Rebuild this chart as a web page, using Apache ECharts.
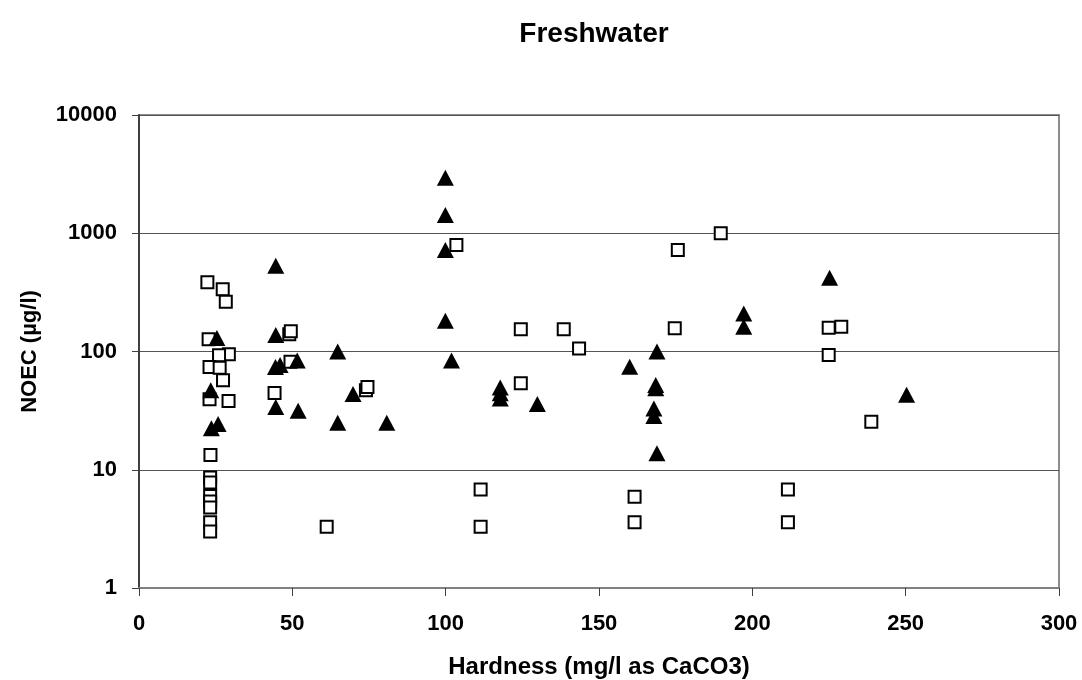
<!DOCTYPE html>
<html>
<head>
<meta charset="utf-8">
<script src="https://cdn.jsdelivr.net/npm/echarts@6/dist/echarts.min.js"></script>
<style>
  html, body { margin: 0; padding: 0; background: #fff; }
  #chart { width: 1082px; height: 680px; }
</style>
</head>
<body>
<div id="chart"></div>
<script>
// open squares: [hardness, NOEC]
let squarePoints = [
  [22.3, 385], [27.3, 336], [28.3, 264],
  [22.7, 127], [49, 140], [49.5, 148],
  [29.3, 95], [26.1, 93], [23.0, 74], [26.3, 73], [27.4, 57],
  [49.4, 82], [23.0, 39.5], [29.2, 38.2], [44.2, 44.5],
  [23.3, 13.3],
  [23.2, 8.6], [23.2, 7.8], [23.2, 6.0], [23.2, 5.4], [23.2, 4.8], [23.2, 3.6], [23.2, 3.0],
  [61.2, 3.3],
  [103.5, 795], [74, 47], [74.5, 50],
  [111.4, 6.8], [111.4, 3.3],
  [124.5, 154], [124.5, 54], [138.5, 154], [143.5, 106],
  [161.6, 5.9], [161.6, 3.6],
  [175.7, 721], [174.7, 157], [189.7, 1000],
  [211.6, 6.8], [211.6, 3.6],
  [224.9, 159], [229, 162], [224.9, 93.5], [238.8, 25.5]
]

// filled triangles: [hardness, NOEC]
let trianglePoints = [
  [44.6, 530], [25.4, 130], [44.6, 138],
  [44.5, 74], [46, 77], [51.6, 84], [23.4, 47],
  [44.6, 34], [51.9, 31.6], [23.6, 22.4], [25.8, 24.4],
  [99.9, 2950], [99.9, 1430], [99.9, 721], [99.9, 182],
  [64.8, 100], [101.9, 84], [69.8, 43.7], [64.8, 25], [80.8, 25],
  [117.8, 49.6], [117.8, 44.3], [117.8, 40.1], [129.9, 36],
  [160, 74.4], [168.9, 100], [168.5, 49], [168.5, 52],
  [167.9, 33], [167.9, 28.5], [168.9, 13.8],
  [197.2, 210], [197.2, 162],
  [225.2, 421], [250.3, 43]
]

let xTicks = [0, 50, 100, 150, 200, 250, 300]
let yTicks = [1, 10, 100, 1000, 10000]

let labelFont = 'Liberation Sans, Arial, sans-serif'

let myChart = echarts.init(document.getElementById('chart'))

myChart.setOption({
  backgroundColor: '#fff',
  animation: false,
  title: {
    text: 'Freshwater',
    left: 589,
    textAlign: 'center',
    top: 15,
    textStyle: { fontFamily: labelFont, fontSize: 28, fontWeight: 'bold', color: '#000' }
  },
  grid: {
    left: 139,
    top: 115,
    right: 23,
    bottom: 92,
    outerBoundsMode: 'none',
    show: true,
    borderColor: '#8c8c8c',
    borderWidth: 2,
    backgroundColor: '#fff'
  },
  xAxis: {
    type: 'value',
    min: xTicks[0],
    max: xTicks[xTicks.length - 1],
    interval: 50,
    name: 'Hardness (mg/l as CaCO3)',
    nameLocation: 'middle',
    nameGap: 67,
    nameTextStyle: { fontFamily: labelFont, fontSize: 24, fontWeight: 'bold', color: '#000' },
    axisLine: { onZero: false, lineStyle: { color: '#808080', width: 2 } },
    axisTick: { show: true, length: 8, lineStyle: { color: '#404040', width: 1 } },
    axisLabel: { fontFamily: labelFont, fontSize: 22, fontWeight: 'bold', color: '#000', margin: 25 },
    splitLine: { show: false }
  },
  yAxis: {
    type: 'log',
    logBase: 10,
    min: yTicks[0],
    max: yTicks[yTicks.length - 1],
    name: 'NOEC (µg/l)',
    nameLocation: 'middle',
    nameGap: 98,
    nameTextStyle: { fontFamily: labelFont, fontSize: 22, fontWeight: 'bold', color: '#000' },
    axisLine: { show: true, lineStyle: { color: '#404040', width: 2 } },
    axisTick: { show: true, length: 7, lineStyle: { color: '#404040', width: 1 } },
    axisLabel: {
      fontFamily: labelFont, fontSize: 22, fontWeight: 'bold', color: '#000', margin: 22,
      formatter: function (v) { return String(Math.round(v)) }
    },
    splitLine: { show: true, lineStyle: { color: '#555', width: 1 } }
  },
  series: [
    {
      name: 'squares',
      type: 'scatter',
      symbol: 'rect',
      symbolSize: 12,
      data: squarePoints,
      itemStyle: { color: '#fff', borderColor: '#000', borderWidth: 2, opacity: 1 },
      z: 2
    },
    {
      name: 'triangles',
      type: 'scatter',
      symbol: 'triangle',
      symbolSize: [17, 16],
      data: trianglePoints,
      itemStyle: { color: '#000', opacity: 1 },
      z: 3
    }
  ]
})
</script>
</body>
</html>
